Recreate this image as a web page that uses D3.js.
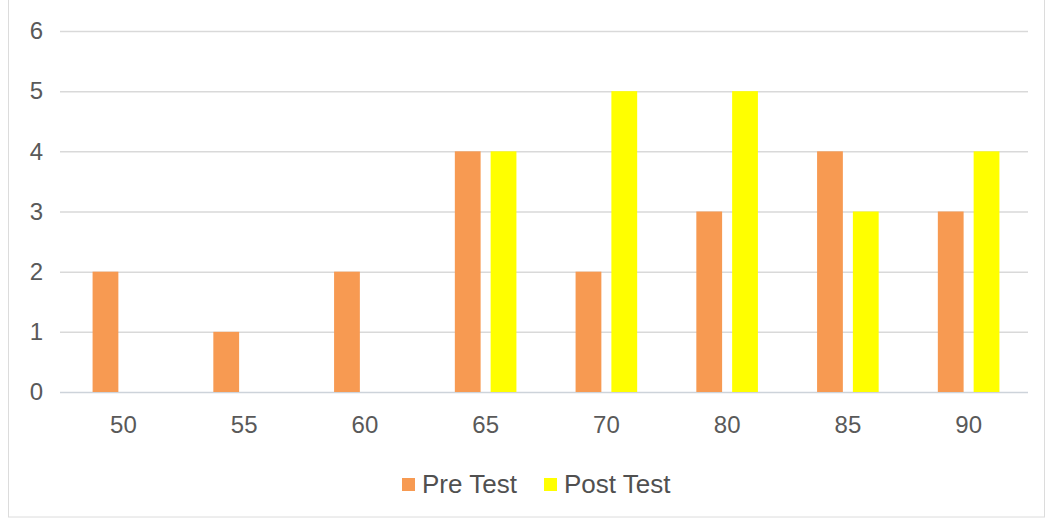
<!DOCTYPE html>
<html>
<head>
<meta charset="utf-8">
<script src="https://cdn.jsdelivr.net/npm/d3@7"></script>
<style>
  html, body { margin: 0; padding: 0; background: #fff; }
  svg { display: block; font-family: "Liberation Sans", Arial, sans-serif; }
</style>
</head>
<body>
<svg id="chart" width="1048" height="520"></svg>
<script>
// Score buckets and number of students per bucket
const categories = ["50", "55", "60", "65", "70", "80", "85", "90"];
const seriesNames = ["Pre Test", "Post Test"];
const preTest  = [2, 1, 2, 4, 2, 3, 4, 3];
const postTest = [0, 0, 0, 4, 5, 5, 3, 4];
const yTicks = [0, 1, 2, 3, 4, 5, 6];
const colors = ["#F79A52", "#FFFF00"];

const svg = d3.select("#chart");

// outer frame of the chart area
svg.append("rect")
  .attr("x", 8.5).attr("y", -2)
  .attr("width", 1036).attr("height", 519)
  .attr("fill", "#fff")
  .attr("stroke", "#dcdcdc").attr("stroke-width", 1);

const plot = { left: 63, right: 1029, top: 31, bottom: 392 };

const x0 = d3.scaleBand()
  .domain(categories)
  .range([plot.left, plot.right])
  .paddingInner(0.49)
  .paddingOuter(0.245);

const x1 = d3.scaleBand()
  .domain(seriesNames)
  .range([0, x0.bandwidth()])
  .paddingInner(0.28);

const y = d3.scaleLinear()
  .domain([0, 6])
  .range([plot.bottom, plot.top]);

// horizontal gridlines
const grid = svg.append("g").attr("transform", `translate(${plot.left - 3},0)`)
  .call(d3.axisLeft(y).tickValues(yTicks).tickSize(-(plot.right - plot.left + 2)).tickFormat(""));
grid.select(".domain").remove();
grid.selectAll(".tick line")
  .attr("stroke", d => d === 0 ? "#cdd3da" : "#d9d9d9")
  .attr("stroke-width", 1.5);

// y-axis labels
const yAxis = svg.append("g").attr("transform", `translate(${plot.left - 20},0)`)
  .call(d3.axisLeft(y).tickValues(yTicks).tickSize(0).tickPadding(0).tickFormat(d3.format("d")));
yAxis.select(".domain").remove();
yAxis.selectAll("text")
  .attr("fill", "#595959")
  .style("font-size", "24px")
  .style("font-family", "'Liberation Sans', Arial, sans-serif");

// grouped bars
const rows = categories.map((c, i) => ({ cat: c, values: [preTest[i], postTest[i]] }));
const groups = svg.append("g").selectAll("g")
  .data(rows).join("g")
  .attr("transform", d => `translate(${x0(d.cat)},0)`);

groups.selectAll("rect")
  .data(d => d.values.map((v, j) => ({ key: seriesNames[j], value: v, j })))
  .join("rect")
  .attr("x", d => x1(d.key))
  .attr("width", x1.bandwidth())
  .attr("y", d => y(d.value))
  .attr("height", d => y(0) - y(d.value))
  .attr("fill", d => colors[d.j]);

// x-axis labels
const xAxis = svg.append("g").attr("transform", `translate(0,${plot.bottom})`)
  .call(d3.axisBottom(x0).tickSize(0).tickPadding(24));
xAxis.select(".domain").remove();
xAxis.selectAll("text")
  .attr("fill", "#595959")
  .style("font-size", "24px")
  .style("font-family", "'Liberation Sans', Arial, sans-serif");

// legend
const legendItems = [
  { name: seriesNames[0], color: colors[0], x: 402 },
  { name: seriesNames[1], color: colors[1], x: 544 }
];
const legend = svg.append("g");
legendItems.forEach(it => {
  legend.append("rect")
    .attr("x", it.x).attr("y", 478)
    .attr("width", 13).attr("height", 13)
    .attr("fill", it.color);
  legend.append("text")
    .attr("x", it.x + 20).attr("y", 493)
    .attr("fill", "#505050")
    .style("font-size", "26px")
    .text(it.name);
});
</script>
</body>
</html>
